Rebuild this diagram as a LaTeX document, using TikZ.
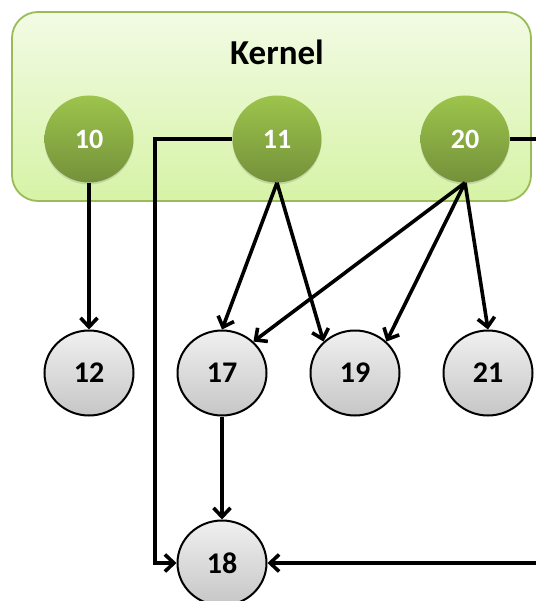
\documentclass[tikz,border=0pt]{standalone}
\usepackage{fontspec}
\setmainfont{Carlito}
\usetikzlibrary{shapes.geometric,arrows.meta,shadows}
\definecolor{kfillT}{HTML}{F2FBE4}
\definecolor{kfillB}{HTML}{D6F3A6}
\definecolor{kdraw}{HTML}{9BBB59}
\definecolor{gT}{HTML}{9DC44C}
\definecolor{gB}{HTML}{74913A}
\definecolor{sT}{HTML}{F0F0F0}
\definecolor{sB}{HTML}{C6C6C6}
\tikzset{
  kernelbox/.style={rounded corners=26pt, draw=kdraw, line width=1.8pt, top color=kfillT, bottom color=kfillB, minimum width=519pt, minimum height=189pt, inner sep=0pt},
  greennode/.style={ellipse, minimum width=89pt, minimum height=87pt, inner sep=0pt, top color=gT, bottom color=gB, draw=none, text=white, font=\bfseries\fontsize{28}{30}\selectfont, drop shadow={shadow xshift=0pt, shadow yshift=-2pt, opacity=0.25}},
  graynode/.style={ellipse, minimum width=89pt, minimum height=85pt, inner sep=0pt, top color=sT, bottom color=sB, draw=black, line width=2pt, font=\bfseries\fontsize{30}{32}\selectfont},
  conn/.style={line width=3.6pt, -{Straight Barb[length=9pt,width=17pt,line width=3.6pt]}},
}
\begin{document}
\begin{tikzpicture}[x=1pt,y=-1pt]
\useasboundingbox (0,0) rectangle (535,601);
\node[kernelbox] (kernel) at (271.5,106.5) {};
\node[font=\bfseries\fontsize{35}{38}\selectfont] (klabel) at (277,52) {Kernel};
\node[greennode] (n10) at (89,139) {10};
\node[greennode] (n11) at (277,139) {11};
\node[greennode] (n20) at (465,139) {20};
\node[graynode] (n12) at (89,373) {12};
\node[graynode] (n17) at (222,373) {17};
\node[graynode] (n19) at (355,373) {19};
\node[graynode] (n21) at (488,373) {21};
\node[graynode] (n18) at (222,563) {18};
\coordinate (c1) at (155,139);
\coordinate (c2) at (548,139);
\draw[conn] (n10.south) -- (n12.north);
\draw[conn] (n11.south) -- (n17.north);
\draw[conn] (n11.south) -- (n19.135);
\draw[conn] (n20.south) -- (n17.45);
\draw[conn] (n20.south) -- (n19.45);
\draw[conn] (n20.south) -- (n21.north);
\draw[conn] (n17.south) -- (n18.north);
\draw[conn] (n11.west) -- (c1) |- (n18.west);
\draw[conn] (n20.east) -- (c2) |- (n18.east);
\end{tikzpicture}
\end{document}
